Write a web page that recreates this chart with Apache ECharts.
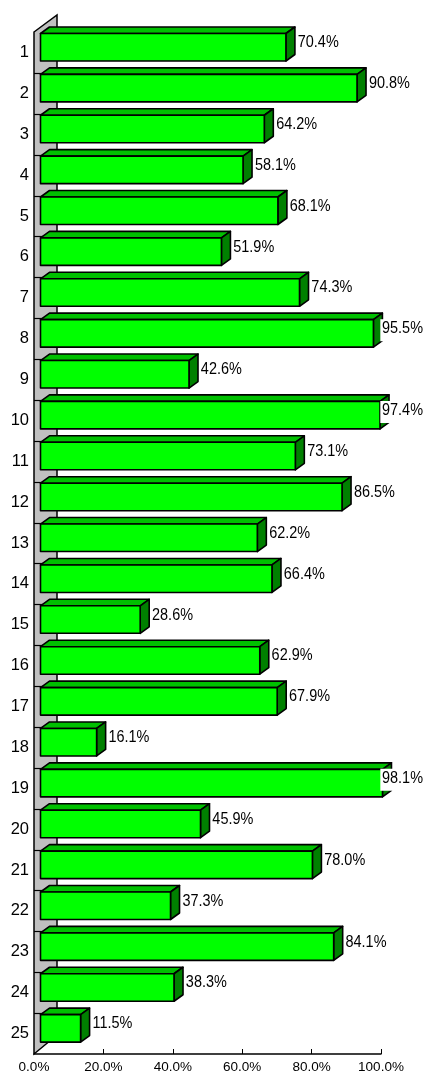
<!DOCTYPE html>
<html>
<head>
<meta charset="utf-8">
<script src="https://cdn.jsdelivr.net/npm/echarts@6/dist/echarts.min.js"></script>
<style>
html,body{margin:0;padding:0;background:#fff;}
#chart{width:423px;height:1074px;}
</style>
</head>
<body>
<div id="chart"></div>
<script>
const categories = ['1','2','3','4','5','6','7','8','9','10','11','12','13','14','15','16','17','18','19','20','21','22','23','24','25'];
const values = [70.4, 90.8, 64.2, 58.1, 68.1, 51.9, 74.3, 95.5, 42.6, 97.4, 73.1, 86.5, 62.2, 66.4, 28.6, 62.9, 67.9, 16.1, 98.1, 45.9, 78.0, 37.3, 84.1, 38.3, 11.5];
const xMin = 0, xMax = 100, xInterval = 20;

const FONT = '"Liberation Sans", Arial, sans-serif';
const LABEL_SCALE = 0.85;
const CHART_W = 423;
const measureCtx = document.createElement('canvas').getContext('2d');
measureCtx.font = '17px ' + FONT;

const chart = echarts.init(document.getElementById('chart'), null, {renderer: 'canvas'});

const DX = 9, DY = -6.5;
const WALL_DX = 23, WALL_DY = -18;

function renderWall(params, api) {
  const cs = params.coordSys;
  const x = cs.x, y = cs.y, h = cs.height;
  const children = [{
    type: 'polygon',
    shape: {points: [[x, y], [x + WALL_DX, y + WALL_DY + 1], [x + WALL_DX, y + h + WALL_DY - 1], [x, y + h]]},
    style: {fill: '#c0c0c0', stroke: '#000', lineWidth: 1.5}
  }];
  const n = categories.length;
  for (let k = 1; k < n; k++) {
    const yy = Math.round(y + k * h / n) + 0.5;
    children.push({
      type: 'line',
      shape: {x1: x, y1: yy, x2: x + WALL_DX, y2: yy},
      style: {stroke: '#000', lineWidth: 1.2}
    });
  }
  return {type: 'group', children: children};
}

function renderBar(params, api) {
  const v = api.value(0);
  const i = api.value(1);
  const c0 = api.coord([0, i]);
  const c1 = api.coord([v, i]);
  const band = api.size([0, 1])[1];
  const xl = c0[0] + 6.5;
  const xr = xl + (c1[0] - c0[0]) * 1.0046;
  const yt = c0[1] - band / 2 + 1.5;
  const yb = yt + 27.5;
  const stroke = {stroke: '#000', lineWidth: 1.6, lineJoin: 'round'};
  const label = v.toFixed(1) + '%';
  const tw = measureCtx.measureText(label).width * LABEL_SCALE;
  let tx = xr + 11, align = 'left', pad = [1, 2, 4, 1];
  if (tx + tw + 2 > CHART_W) { tx = CHART_W; align = 'right'; pad = [1, 0, 4, 2]; }
  return {
    type: 'group',
    children: [
      {type: 'polygon', shape: {points: [[xl, yt], [xl + DX, yt + DY], [xr + DX, yt + DY], [xr, yt]]}, style: Object.assign({fill: '#00c000'}, stroke)},
      {type: 'polygon', shape: {points: [[xr, yt], [xr + DX, yt + DY], [xr + DX, yb + DY], [xr, yb]]}, style: Object.assign({fill: '#008000'}, stroke)},
      {type: 'rect', shape: {x: xl, y: yt, width: xr - xl, height: yb - yt}, style: Object.assign({fill: '#00ff00'}, stroke)},
      {type: 'text', x: tx, y: yt - 0.5, scaleX: LABEL_SCALE, scaleY: 1, style: {
        text: label, x: 0, y: 0, align: align, verticalAlign: 'top',
        font: '17px ' + FONT, fill: '#000', backgroundColor: '#fff', padding: pad, lineHeight: 17
      }}
    ]
  };
}

chart.setOption({
  animation: false,
  backgroundColor: '#fff',
  grid: {left: 34, right: 42, top: 32, bottom: 20, containLabel: false},
  xAxis: {
    type: 'value', min: xMin, max: xMax, interval: xInterval,
    axisLine: {show: true, lineStyle: {color: '#000', width: 1.5}},
    axisTick: {show: true, inside: true, length: 5, lineStyle: {color: '#000', width: 1}},
    axisLabel: {margin: 6, fontSize: 13.5, fontFamily: FONT, color: '#000', formatter: function (v) { return v.toFixed(1) + '%'; }},
    splitLine: {show: false}
  },
  yAxis: {
    type: 'category', data: categories, inverse: true,
    axisLine: {show: false}, axisTick: {show: false},
    axisLabel: {margin: 5, fontSize: 16.5, fontFamily: FONT, color: '#000'},
    splitLine: {show: false}
  },
  series: [
    {type: 'custom', z: 1, renderItem: renderWall, data: [[0, 0]], encode: {x: 0, y: 1}, silent: true},
    {type: 'custom', z: 2, renderItem: renderBar, data: values.map(function (v, i) { return [v, i]; }), encode: {x: 0, y: 1}, clip: false}
  ]
});
</script>
</body>
</html>
